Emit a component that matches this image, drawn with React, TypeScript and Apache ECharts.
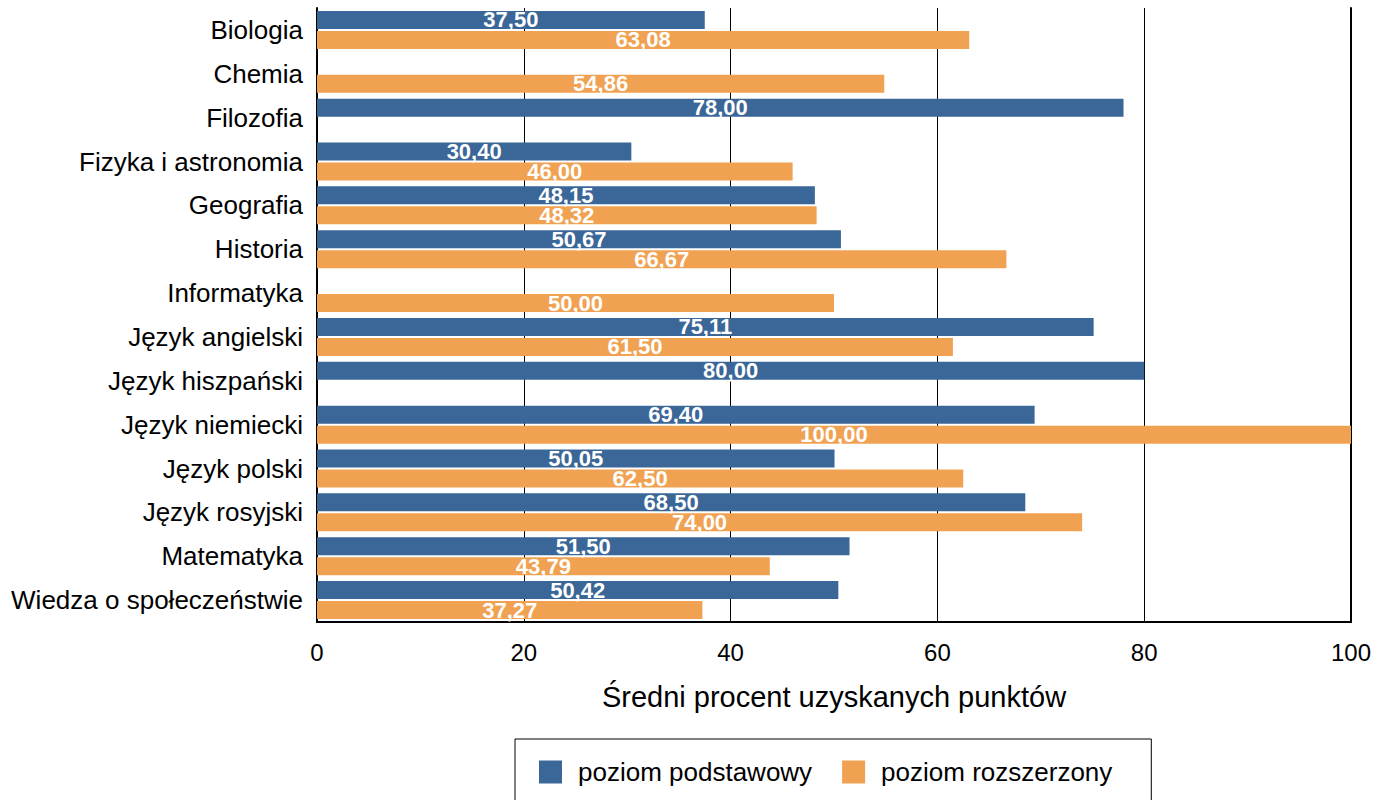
import React, { useEffect, useRef } from "react";
import * as echarts from "echarts";

const categories = [
  "Biologia",
  "Chemia",
  "Filozofia",
  "Fizyka i astronomia",
  "Geografia",
  "Historia",
  "Informatyka",
  "Język angielski",
  "Język hiszpański",
  "Język niemiecki",
  "Język polski",
  "Język rosyjski",
  "Matematyka",
  "Wiedza o społeczeństwie",
];

const basicValues: (number | null)[] = [
  37.5, null, 78.0, 30.4, 48.15, 50.67, null, 75.11, 80.0, 69.4, 50.05, 68.5, 51.5, 50.42,
];

const extendedValues: (number | null)[] = [
  63.08, 54.86, null, 46.0, 48.32, 66.67, 50.0, 61.5, null, 100.0, 62.5, 74.0, 43.79, 37.27,
];

const seriesNames = ["poziom podstawowy", "poziom rozszerzony"];
const xTicks = { min: 0, max: 100, interval: 20 };
const axisTitle = "Średni procent uzyskanych punktów";

const FONT = "'Liberation Sans', Arial, sans-serif";
const BLUE = "#3A6698";
const ORANGE = "#F0A252";

const fmt = (v: number) => v.toFixed(2).replace(".", ",");

export default function App() {
  const ref = useRef<HTMLDivElement>(null);

  useEffect(() => {
    document.body.style.margin = "0";
    if (!ref.current) return;
    const chart = echarts.init(ref.current, undefined, { renderer: "svg" });
    const label = {
      show: true,
      position: "inside",
      color: "#fff",
      fontWeight: "bold",
      fontSize: 22,
      fontFamily: FONT,
      formatter: (p: any) => fmt(p.value as number),
    };
    chart.setOption({
      animation: false,
      backgroundColor: "#fff",
      textStyle: { fontFamily: FONT },
      grid: { left: 317, right: 35, top: 8, bottom: 178, containLabel: false },
      legend: {
        left: 515,
        top: 739,
        orient: "horizontal",
        padding: [20, 39, 40, 24],
        borderColor: "#000",
        borderWidth: 1,
        itemWidth: 23,
        itemHeight: 23,
        itemGap: 30,
        icon: "rect",
        selectedMode: false,
        textStyle: { fontSize: 26, color: "#000", fontFamily: FONT, padding: [0, 0, 0, 11] },
        data: seriesNames,
      },
      xAxis: {
        type: "value",
        min: xTicks.min,
        max: xTicks.max,
        interval: xTicks.interval,
        name: axisTitle,
        nameLocation: "middle",
        nameGap: 60,
        nameTextStyle: { fontSize: 29, color: "#000", fontFamily: FONT },
        axisLine: { show: true, lineStyle: { color: "#000", width: 2 } },
        axisTick: { show: false },
        axisLabel: { fontSize: 24, color: "#000", margin: 18, fontFamily: FONT },
        splitLine: { show: true, lineStyle: { color: "#000", width: 1 } },
      },
      yAxis: [
        {
          type: "category",
          data: categories,
          inverse: true,
          axisLine: { show: true, lineStyle: { color: "#000", width: 2 } },
          axisTick: { show: false },
          axisLabel: { fontSize: 26, color: "#000", margin: 14, fontFamily: FONT },
          splitLine: { show: false },
        },
        {
          type: "category",
          data: categories,
          inverse: true,
          position: "right",
          axisLine: { show: true, lineStyle: { color: "#000", width: 2 } },
          axisTick: { show: false },
          axisLabel: { show: false },
          splitLine: { show: false },
        },
      ],
      series: [
        {
          name: seriesNames[0],
          type: "bar",
          data: basicValues,
          barWidth: 18,
          barGap: "11%",
          itemStyle: { color: BLUE },
          label,
        },
        {
          name: seriesNames[1],
          type: "bar",
          data: extendedValues,
          barWidth: 18,
          barGap: "11%",
          itemStyle: { color: ORANGE },
          label,
        },
      ],
    });
    return () => chart.dispose();
  }, []);

  return <div ref={ref} style={{ width: 1386, height: 800 }} />;
}
